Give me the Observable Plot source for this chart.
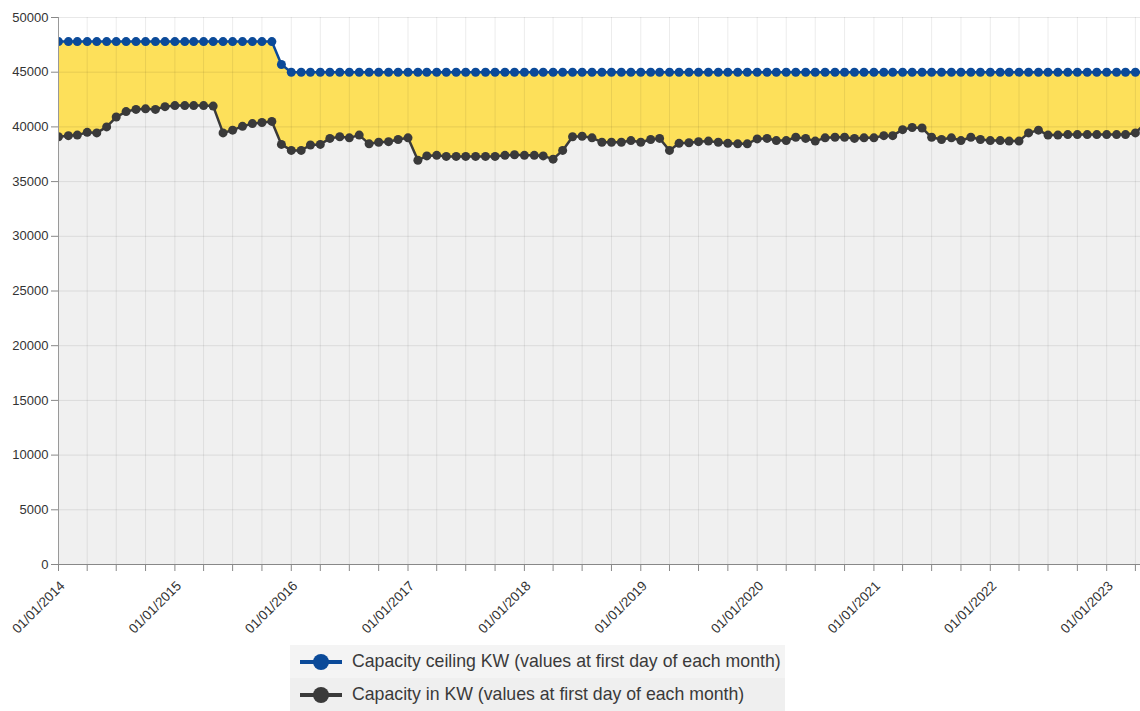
<!DOCTYPE html>
<html>
<head>
<meta charset="utf-8">
<script src="https://cdn.jsdelivr.net/npm/d3@7"></script>
<script src="https://cdn.jsdelivr.net/npm/@observablehq/plot@0.6"></script>
<style>
  html, body { margin: 0; padding: 0; background: #fff; overflow: hidden; }
  body { width: 1140px; height: 711px; position: relative; font-family: "Liberation Sans", Arial, sans-serif; }
  #chart { position: absolute; left: 0; top: 0; }
  #legend { position: absolute; left: 290px; top: 645px; width: 495px; height: 66px; background: #efefef; }
  .row { position: absolute; left: 0; height: 33px; display: flex; align-items: center; color: #3a3a3a; font-size: 17.7px; white-space: nowrap; }
  .row svg { margin-left: 10px; margin-right: 10px; }
</style>
</head>
<body>
<div id="chart"></div>
<div id="legend">
  <div class="row" style="top:0px;background:#f4f4f4;width:495px;"><svg width="42" height="20"><line x1="0" y1="10" x2="42" y2="10" stroke="#0b4a99" stroke-width="4"/><circle cx="21" cy="10" r="8" fill="#0b4a99"/></svg><span>Capacity ceiling KW (values at first day of each month)</span></div>
  <div class="row" style="top:33px;"><svg width="42" height="20"><line x1="0" y1="10" x2="42" y2="10" stroke="#3a3a3a" stroke-width="4"/><circle cx="21" cy="10" r="8" fill="#3a3a3a"/></svg><span>Capacity in KW (values at first day of each month)</span></div>
</div>
<script>
// Monthly values starting 01/01/2014 (one value per month)
const startYear = 2014;
const capacityKW = [
  39100, 39200, 39250, 39500, 39450, 40000, 40900, 41400, 41600, 41650, 41600, 41850,
  41950, 41950, 41950, 41950, 41900, 39450, 39700, 40050, 40300, 40400, 40500, 38400,
  37850, 37850, 38350, 38400, 38950, 39100, 39000, 39250, 38450, 38600, 38650, 38850,
  39000, 36950, 37350, 37400, 37300, 37300, 37300, 37300, 37300, 37300, 37400, 37450,
  37400, 37400, 37350, 37050, 37850, 39100, 39150, 39000, 38600, 38600, 38600, 38750,
  38600, 38850, 38950, 37850, 38500, 38550, 38650, 38700, 38600, 38500, 38450, 38450,
  38900, 38950, 38750, 38750, 39050, 38950, 38700, 39000, 39050, 39050, 38950, 39000,
  39000, 39200, 39200, 39750, 39950, 39900, 39050, 38850, 39000, 38750, 39050, 38850,
  38750, 38750, 38700, 38700, 39450, 39700, 39250, 39250, 39300, 39300, 39300, 39300,
  39300, 39300, 39300, 39450, 40300
];
const ceilingKW = [
  47800, 47800, 47800, 47800, 47800, 47800, 47800, 47800, 47800, 47800, 47800, 47800,
  47800, 47800, 47800, 47800, 47800, 47800, 47800, 47800, 47800, 47800, 47800, 45700,
  45000, 45000, 45000, 45000, 45000, 45000, 45000, 45000, 45000, 45000, 45000, 45000,
  45000, 45000, 45000, 45000, 45000, 45000, 45000, 45000, 45000, 45000, 45000, 45000,
  45000, 45000, 45000, 45000, 45000, 45000, 45000, 45000, 45000, 45000, 45000, 45000,
  45000, 45000, 45000, 45000, 45000, 45000, 45000, 45000, 45000, 45000, 45000, 45000,
  45000, 45000, 45000, 45000, 45000, 45000, 45000, 45000, 45000, 45000, 45000, 45000,
  45000, 45000, 45000, 45000, 45000, 45000, 45000, 45000, 45000, 45000, 45000, 45000,
  45000, 45000, 45000, 45000, 45000, 45000, 45000, 45000, 45000, 45000, 45000, 45000,
  45000, 45000, 45000, 45000, 45000
];
const yTicks = [0, 5000, 10000, 15000, 20000, 25000, 30000, 35000, 40000, 45000, 50000];

const data = capacityKW.map((v, i) => ({
  date: new Date(Date.UTC(startYear, i, 1)),
  capacity: v,
  ceiling: ceilingKW[i]
}));

const xStart = new Date(Date.UTC(2014, 0, 1));
const xEnd = new Date(Date.UTC(2023, 3, 17));
const quarterTicks = d3.utcMonth.every(3).range(xStart, xEnd);
const yearTicks = d3.utcYear.every(1).range(xStart, xEnd);
const fmt = d3.utcFormat("%d/%m/%Y");

const BLUE = "#0b4a99", DARK = "#3a3a3a", YELLOW = "#fde05a", LIGHT = "#f0f0f0";

const chart = Plot.plot({
  width: 1140,
  height: 645,
  marginLeft: 58,
  marginRight: 0,
  marginTop: 17,
  marginBottom: 81,
  style: { fontFamily: "'Liberation Sans', Arial, sans-serif", fontSize: "13px", color: "#333", background: "transparent", overflow: "hidden" },
  x: { type: "utc", domain: [xStart, xEnd] },
  y: { domain: [0, 50000] },
  marks: [
    Plot.areaY(data, { x: "date", y1: 0, y2: "capacity", fill: LIGHT, clip: true }),
    Plot.areaY(data, { x: "date", y1: "capacity", y2: "ceiling", fill: YELLOW, clip: true }),
    Plot.gridY(yTicks, { stroke: "#000", strokeOpacity: 0.09 }),
    Plot.gridX(quarterTicks, { stroke: "#000", strokeOpacity: 0.08 }),
    Plot.line(data, { x: "date", y: "ceiling", stroke: BLUE, strokeWidth: 2.5, clip: true }),
    Plot.dot(data, { x: "date", y: "ceiling", r: 4.5, fill: BLUE, clip: true }),
    Plot.line(data, { x: "date", y: "capacity", stroke: DARK, strokeWidth: 2.5, clip: true }),
    Plot.dot(data, { x: "date", y: "capacity", r: 4.5, fill: DARK, clip: true }),
    Plot.ruleX([xStart], { stroke: "#999" }),
    Plot.ruleY([0], { stroke: "#888" }),
    Plot.axisY(yTicks, { tickSize: 7, tickFormat: d3.format("d"), stroke: "#888", fill: "#333", label: null }),
    Plot.axisX(quarterTicks, { tickSize: 7, stroke: "#888", text: null, label: null }),
    Plot.axisX(yearTicks, {
      tickSize: 0,
      fill: "#333",
      tickRotate: -45,
      tickPadding: 19,
      dx: 4,
      fontSize: 13.5,
      tickFormat: fmt,
      label: null
    })
  ]
});
document.getElementById("chart").appendChild(chart);
</script>
</body>
</html>
